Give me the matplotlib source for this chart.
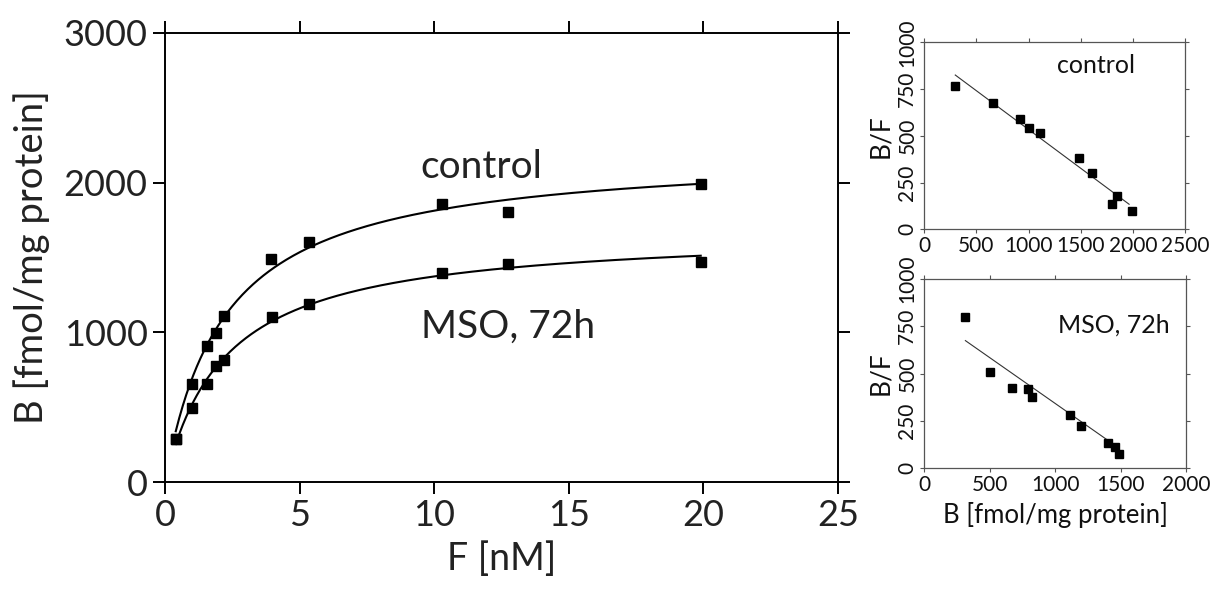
import numpy as np
import matplotlib
matplotlib.use("Agg")
import matplotlib.pyplot as plt

plt.rcParams['font.family'] = ['Lato', 'DejaVu Sans']

# ---- main saturation data ----
F_control = [0.4, 1.0, 1.55, 1.88, 2.19, 3.94, 5.36, 10.3, 12.75, 19.9]
B_control = [290, 655, 909, 995, 1109, 1490, 1603, 1857, 1803, 1990]
F_mso = [0.4, 1.0, 1.55, 1.88, 2.19, 3.97, 5.36, 10.3, 12.75, 19.9]
B_mso = [290, 494, 655, 775, 815, 1102, 1189, 1396, 1456, 1469]

# ---- Scatchard data ----
sc_B_control = [297, 661, 916, 1006, 1114, 1488, 1606, 1801, 1852, 1992]
sc_BF_control = [766, 677, 592, 540, 515, 383, 299, 137, 178, 98]
sc_fit_B_control = [297, 1964]
sc_fit_BF_control = [825, 134]

sc_B_mso = [314, 500, 673, 791, 824, 1112, 1196, 1403, 1457, 1487]
sc_BF_mso = [801, 506, 425, 420, 374, 280, 224, 134, 109, 74]
sc_fit_B_mso = [314, 1472]
sc_fit_BF_mso = [674, 113]

main_xticks = [0, 5, 10, 15, 20, 25]
main_yticks = [0, 1000, 2000, 3000]
inset_yticks = [0, 250, 500, 750, 1000]
top_xticks = [0, 500, 1000, 1500, 2000, 2500]
bot_xticks = [0, 500, 1000, 1500, 2000]


def hyperbola_fit(F, B):
    F = np.asarray(F, float)
    B = np.asarray(B, float)
    best = None
    for kd in np.linspace(0.5, 8, 1501):
        g = F / (kd + F)
        bmax = np.sum(B * g) / np.sum(g * g)
        err = np.sum((B - bmax * g) ** 2)
        if best is None or err < best[0]:
            best = (err, kd, bmax)
    return best[1], best[2]


W, H = 1214, 599
fig = plt.figure(figsize=(W / 100, H / 100), dpi=100)

ax = fig.add_axes([165 / W, 1 - 482 / H, (838 - 165) / W, (482 - 33) / H])
for F, B in ((F_control, B_control), (F_mso, B_mso)):
    kd, bmax = hyperbola_fit(F, B)
    xx = np.linspace(min(F), max(F), 300)
    ax.plot(xx, bmax * xx / (kd + xx), color='black', lw=1.5, zorder=2)
    ax.plot(F, B, 's', color='black', ms=6.5, zorder=3)

ax.set_xlim(0, 25)
ax.set_ylim(0, 3000)
ax.set_xticks(main_xticks)
ax.set_yticks(main_yticks)
ax.tick_params(direction='out', length=8.5, width=1.4, labelsize=26,
               top=True, right=True, labelcolor='#222222', pad=4)
for s in ax.spines.values():
    s.set_linewidth(1.4)
ax.set_xlabel('F [nM]', fontsize=27, color='#222222', labelpad=6)
ax.set_ylabel('B [fmol/mg protein]', fontsize=27.5, color='#222222', labelpad=10)
ax.text(9.5, 2031, 'control', fontsize=28, color='#222222')
ax.text(9.5, 962, 'MSO, 72h', fontsize=28, color='#222222')


def inset(rect, B, BF, fB, fBF, xlim, xticks, label, lx, ly, xlabel=None):
    a = fig.add_axes(rect)
    a.plot(fB, fBF, color='#333333', lw=0.8, zorder=2)
    a.plot(B, BF, 's', color='black', ms=5.5, zorder=3)
    a.set_xlim(*xlim)
    a.set_ylim(0, 1000)
    a.set_xticks(xticks)
    a.set_yticks(inset_yticks)
    a.tick_params(direction='out', length=3, width=0.8, color='#555555',
                  labelsize=15, top=True, right=True, pad=2, labelcolor='#111111')
    for t in a.get_yticklabels():
        t.set_rotation(90)
        t.set_va('center')
    for s in a.spines.values():
        s.set_linewidth(0.9)
        s.set_color('#555555')
    a.set_ylabel('B/F', fontsize=19, color='#111111', labelpad=3)
    a.text(lx, ly, label, fontsize=18, color='#111111')
    if xlabel:
        a.set_xlabel(xlabel, fontsize=18.5, color='#111111', labelpad=5)
    return a


inset([924.3 / W, 1 - 229.3 / H, (1185 - 924.3) / W, (229.3 - 42.3) / H],
      sc_B_control, sc_BF_control, sc_fit_B_control, sc_fit_BF_control,
      (0, 2500), top_xticks, 'control', 1271, 835)
inset([924.3 / W, 1 - 468 / H, (1186 - 924.3) / W, (468 - 279) / H],
      sc_B_mso, sc_BF_mso, sc_fit_B_mso, sc_fit_BF_mso,
      (0, 2000), bot_xticks, 'MSO, 72h', 1022, 714, 'B [fmol/mg protein]')

fig.savefig('out.png', dpi=100)
